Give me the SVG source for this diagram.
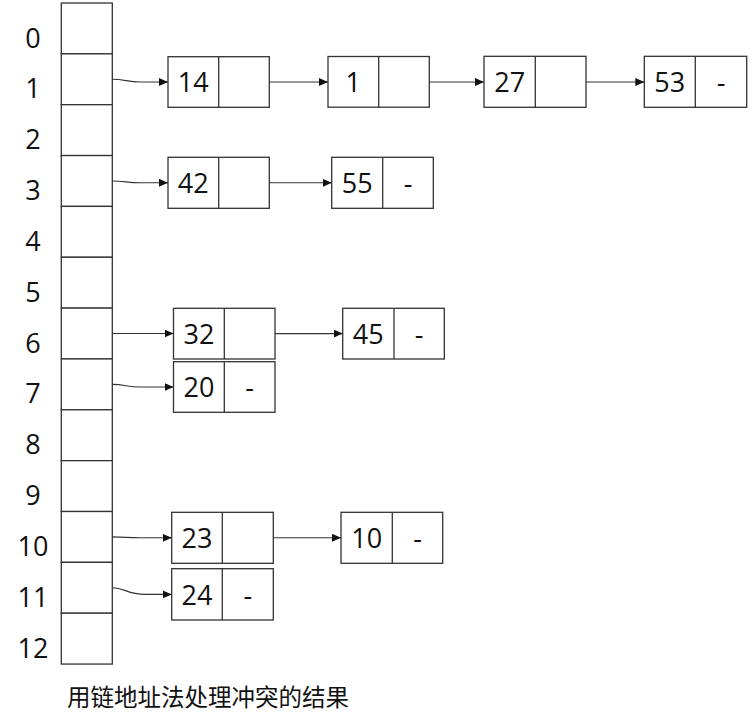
<svg xmlns="http://www.w3.org/2000/svg" width="752" height="722" viewBox="0 0 752 722">
<defs>
<style>
.cell{fill:#fff;stroke:#333;stroke-width:1.3}
.box{fill:#fff;stroke:#333;stroke-width:1.3}
.div{stroke:#333;stroke-width:1.3}
.lbl{font-family:"Open Sans","Liberation Sans",sans-serif;font-size:27px;fill:#111;text-anchor:middle}
.con{fill:none;stroke:#333;stroke-width:1.1;marker-end:url(#ah)}
.cap{font-family:"Noto Sans CJK SC",sans-serif;font-size:23.5px;fill:#111}
</style>
<marker id="ah" markerUnits="userSpaceOnUse" markerWidth="10" markerHeight="9" refX="9" refY="4" orient="auto">
<path d="M0,0 L9,4 L0,8 z" fill="#111"/>
</marker>
</defs>
<rect width="752" height="722" fill="#fff"/>

<g id="table">
<rect class="cell" x="61.3" y="3" width="51" height="50.85"/>
<rect class="cell" x="61.3" y="53.85" width="51" height="50.85"/>
<rect class="cell" x="61.3" y="104.7" width="51" height="50.85"/>
<rect class="cell" x="61.3" y="155.55" width="51" height="50.85"/>
<rect class="cell" x="61.3" y="206.4" width="51" height="50.85"/>
<rect class="cell" x="61.3" y="257.25" width="51" height="50.85"/>
<rect class="cell" x="61.3" y="308.1" width="51" height="50.85"/>
<rect class="cell" x="61.3" y="358.95" width="51" height="50.85"/>
<rect class="cell" x="61.3" y="409.8" width="51" height="50.85"/>
<rect class="cell" x="61.3" y="460.65" width="51" height="50.85"/>
<rect class="cell" x="61.3" y="511.5" width="51" height="50.85"/>
<rect class="cell" x="61.3" y="562.35" width="51" height="50.85"/>
<rect class="cell" x="61.3" y="613.2" width="51" height="50.85"/>
<text class="lbl" x="33" y="47.5">0</text>
<text class="lbl" x="33" y="98.35">1</text>
<text class="lbl" x="33" y="149.2">2</text>
<text class="lbl" x="33" y="200.05">3</text>
<text class="lbl" x="33" y="250.9">4</text>
<text class="lbl" x="33" y="301.75">5</text>
<text class="lbl" x="33" y="352.6">6</text>
<text class="lbl" x="33" y="403.45">7</text>
<text class="lbl" x="33" y="454.3">8</text>
<text class="lbl" x="33" y="505.15">9</text>
<text class="lbl" x="33" y="556">10</text>
<text class="lbl" x="33" y="606.85">11</text>
<text class="lbl" x="33" y="657.7">12</text>
</g>

<g id="n14"><rect class="box" x="168" y="56.7" width="101.3" height="50.6"/><line class="div" x1="218.7" y1="56.7" x2="218.7" y2="107.3"/><text class="lbl" x="193.3" y="92">14</text></g>
<g id="n1"><rect class="box" x="328" y="56.5" width="101.3" height="50.7"/><line class="div" x1="378.7" y1="56.5" x2="378.7" y2="107.2"/><text class="lbl" x="353.3" y="92">1</text></g>
<g id="n27"><rect class="box" x="484" y="56.3" width="102" height="51"/><line class="div" x1="535.3" y1="56.3" x2="535.3" y2="107.3"/><text class="lbl" x="509.7" y="92">27</text></g>
<g id="n53"><rect class="box" x="644.3" y="56.3" width="102.4" height="51"/><line class="div" x1="695.3" y1="56.3" x2="695.3" y2="107.3"/><text class="lbl" x="669.8" y="92">53</text><text class="lbl" x="721" y="92">-</text></g>

<g id="n42"><rect class="box" x="168" y="157.3" width="101.3" height="51"/><line class="div" x1="218.7" y1="157.3" x2="218.7" y2="208.3"/><text class="lbl" x="193.3" y="193">42</text></g>
<g id="n55"><rect class="box" x="331.7" y="157.3" width="101.6" height="51"/><line class="div" x1="382.7" y1="157.3" x2="382.7" y2="208.3"/><text class="lbl" x="357.2" y="193">55</text><text class="lbl" x="408" y="193">-</text></g>

<g id="n32"><rect class="box" x="173.5" y="308.3" width="101.5" height="50.7"/><line class="div" x1="224.3" y1="308.3" x2="224.3" y2="359"/><text class="lbl" x="199" y="344">32</text></g>
<g id="n45"><rect class="box" x="342.7" y="308.3" width="101.6" height="50.7"/><line class="div" x1="394" y1="308.3" x2="394" y2="359"/><text class="lbl" x="368.3" y="344">45</text><text class="lbl" x="419.2" y="344">-</text></g>
<g id="n20"><rect class="box" x="173.5" y="361.7" width="101.5" height="50.6"/><line class="div" x1="224.3" y1="361.7" x2="224.3" y2="412.3"/><text class="lbl" x="199" y="397">20</text><text class="lbl" x="249.7" y="397">-</text></g>

<g id="n23"><rect class="box" x="171.7" y="512.3" width="101.6" height="51"/><line class="div" x1="222.3" y1="512.3" x2="222.3" y2="563.3"/><text class="lbl" x="197" y="548">23</text></g>
<g id="n10"><rect class="box" x="341" y="512.3" width="101.7" height="51"/><line class="div" x1="392.3" y1="512.3" x2="392.3" y2="563.3"/><text class="lbl" x="366.7" y="548">10</text><text class="lbl" x="417.5" y="548">-</text></g>
<g id="n24"><rect class="box" x="171.7" y="568.7" width="101.6" height="51.3"/><line class="div" x1="222.3" y1="568.7" x2="222.3" y2="620"/><text class="lbl" x="197" y="604.5">24</text><text class="lbl" x="247.8" y="604.5">-</text></g>

<g id="connectors">
<path class="con" d="M112.3,79.3 C125,79.3 127,82 140,82 L168,82"/>
<path class="con" d="M112.3,181 C125,181 127,182.8 140,182.8 L168,182.8"/>
<path class="con" d="M112.3,333.5 L173.5,333.5"/>
<path class="con" d="M112.3,384.4 C125,384.4 127,387 140,387 L173.5,387"/>
<path class="con" d="M112.3,536.9 C125,536.9 127,537.8 140,537.8 L171.7,537.8"/>
<path class="con" d="M112.3,587.7 C125,587.7 127,594.4 145,594.4 L171.7,594.4"/>
<path class="con" d="M269.3,82 L328,82"/>
<path class="con" d="M429.3,82 L484,82"/>
<path class="con" d="M586,82 L644.3,82"/>
<path class="con" d="M269.3,182.8 L331.7,182.8"/>
<path class="con" d="M275,333.6 L342.7,333.6"/>
<path class="con" d="M273.3,537.8 L341,537.8"/>
</g>

<text class="cap" x="67" y="706">用链地址法处理冲突的结果</text>
</svg>
